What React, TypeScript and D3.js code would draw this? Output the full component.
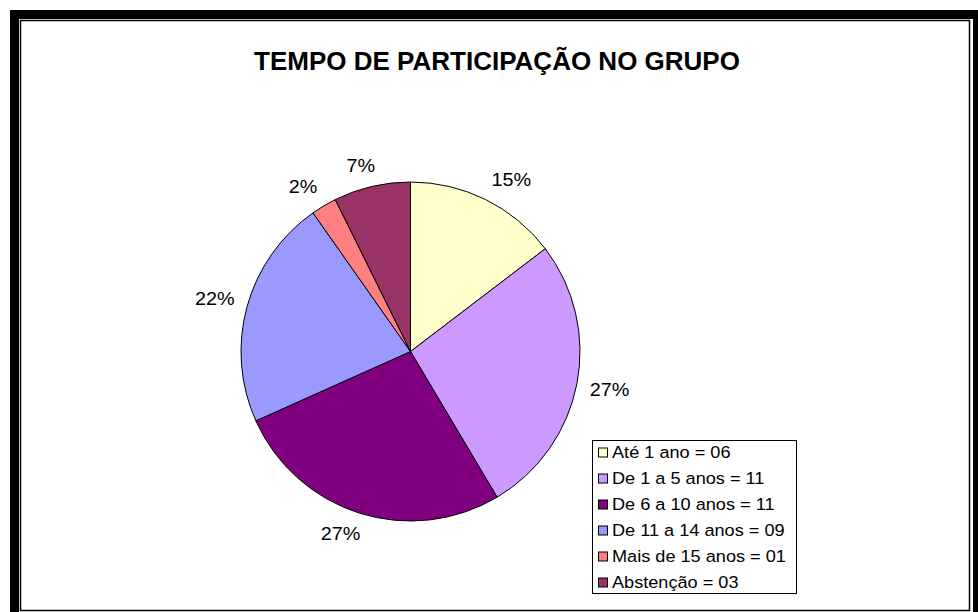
import React from "react";
import * as d3 from "d3";

const title = "TEMPO DE PARTICIPAÇÃO NO GRUPO";
const categories = [
  "Até 1 ano",
  "De 1 a 5 anos",
  "De 6 a 10 anos",
  "De 11 a 14 anos",
  "Mais de 15 anos",
  "Abstenção",
];
const values = [6, 11, 11, 9, 1, 3];
const colors = ["#FFFFCC", "#CC99FF", "#800080", "#9999FF", "#FF8080", "#993366"];

const W = 978;
const H = 612;
const FONT = "'Liberation Sans', Arial, Helvetica, sans-serif";

export default function App() {
  const cx = 410.5;
  const cy = 351.5;
  const r = 169.5;
  const total = d3.sum(values);
  const pie = d3
    .pie<number>()
    .sort(null)
    .value((d) => d)
    .startAngle(0)
    .endAngle(2 * Math.PI);
  const arcs = pie(values);
  const arc = d3.arc<d3.PieArcDatum<number>>().innerRadius(0).outerRadius(r);
  const fmt = d3.format(".0%");
  const pad = d3.format("02d");

  const labelFs = 18;
  const labelSx = 1.1;
  const labelGap = 13;
  const clamp = (v: number) => Math.max(-1, Math.min(1, v));

  const legendX = 592.5;
  const legendY = 440.5;
  const legendW = 204;
  const legendH = 153;
  const rowStep = 26;

  return (
    <svg
      width={W}
      height={H}
      viewBox={`0 0 ${W} ${H}`}
      style={{ position: "absolute", left: 0, top: 0, display: "block", background: "#fff" }}
    >
      <rect x={0} y={0} width={W} height={H} fill="#fff" />
      <rect x={14.5} y={14.5} width={963} height={603} fill="none" stroke="#000" strokeWidth={9} />
      <rect x={20.5} y={20.5} width={949} height={590} fill="none" stroke="#000" strokeWidth={1.5} />

      <text
        x={497}
        y={69.5}
        textAnchor="middle"
        fontFamily={FONT}
        fontWeight="bold"
        fontSize={26}
        fill="#000"
      >
        {title}
      </text>

      <g transform={`translate(${cx},${cy})`}>
        {arcs.map((a, i) => (
          <path key={i} d={arc(a) || ""} fill={colors[i]} stroke="#000" strokeWidth={1} strokeLinejoin="round" />
        ))}
        {arcs.map((a, i) => {
          const mid = (a.startAngle + a.endAngle) / 2;
          const txt = fmt(a.data / total);
          const w = ((txt.length - 1) * 0.556 + 0.889) * labelFs * labelSx;
          const h = 16;
          const s = Math.sin(mid);
          const c = Math.cos(mid);
          const px = (r + labelGap) * s;
          const py = -(r + labelGap) * c;
          const x = px + (w / 2) * clamp(2.5 * s);
          const y = py - (h / 2) * clamp(2 * c);
          return (
            <text
              key={"l" + i}
              transform={`translate(${x},${y}) scale(${labelSx},1)`}
              textAnchor="middle"
              dy="0.36em"
              fontFamily={FONT}
              fontSize={labelFs}
              fill="#000"
            >
              {txt}
            </text>
          );
        })}
      </g>

      <rect x={legendX} y={legendY} width={legendW} height={legendH} fill="#fff" stroke="#000" strokeWidth={1} />
      {categories.map((c, i) => {
        const base = legendY + 17.5 + i * rowStep;
        return (
          <g key={"g" + i}>
            <rect x={598.5} y={base - 10} width={9} height={9} fill={colors[i]} stroke="#000" strokeWidth={1} />
            <text
              transform={`translate(612,${base}) scale(1.1,1)`}
              fontFamily={FONT}
              fontSize={16.5}
              fill="#000"
            >
              {`${c} = ${pad(values[i])}`}
            </text>
          </g>
        );
      })}
    </svg>
  );
}
